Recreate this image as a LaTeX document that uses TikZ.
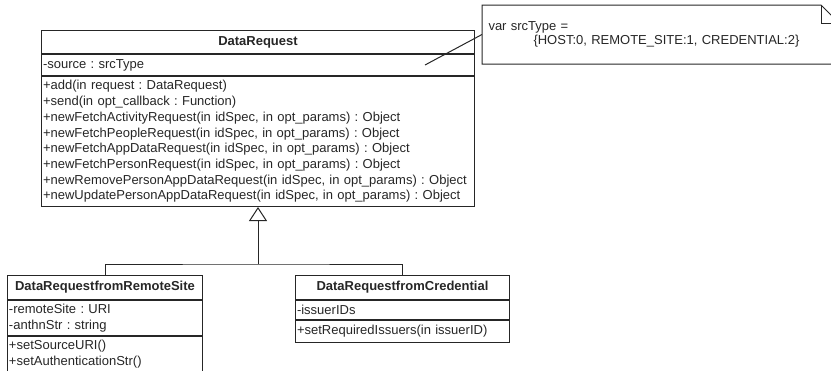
\documentclass[tikz,border=0pt]{standalone}
\usepackage{fontspec}
\setmainfont{Liberation Sans}
\usetikzlibrary{positioning,arrows.meta}
\frenchspacing
\hyphenpenalty=10000

\tikzset{
	cls/.style = {draw, inner xsep=1.5pt, inner ysep=0pt, anchor=north west,
		font=\fontsize{13}{15.7}\selectfont},
	clstitle/.style = {cls, align=center, font=\fontsize{13}{15.7}\selectfont\bfseries},
	clspart/.style = {cls, align=left},
	inherit/.style = {-{Triangle[open,length=14pt,width=18pt]}}
}

\begin{document}
\begin{tikzpicture}[x=1pt, y=-1pt, line width=1pt, color=black!85]
	\useasboundingbox (0,0) rectangle (831,370);
	\clip (0,0) rectangle (831,370);

	% base class
	\node[clstitle, text width=430pt, minimum height=23pt] (dr) at (41,30) {DataRequest};
	\node[clspart, text width=430pt, minimum height=21pt, below=0pt of dr] (drattr) {-source : srcType};
	\node[clspart, text width=430pt, minimum height=130pt, below=0pt of drattr] (drops) {+add(in request : DataRequest)\\
		+send(in opt\_callback : Function)\\
		+newFetchActivityRequest(in idSpec, in opt\_params) : Object\\
		+newFetchPeopleRequest(in idSpec, in opt\_params) : Object\\
		+newFetchAppDataRequest(in idSpec, in opt\_params) : Object\\
		+newFetchPersonRequest(in idSpec, in opt\_params) : Object\\
		+newRemovePersonAppDataRequest(in idSpec, in opt\_params) : Object\\
		+newUpdatePersonAppDataRequest(in idSpec, in opt\_params) : Object};

	% subclasses
	\node[clstitle, text width=192pt, minimum height=24pt] (rsite) at (7,275) {DataRequestfromRemoteSite};
	\node[clspart, text width=192pt, minimum height=35pt, below=0pt of rsite] (rsiteattr) {-remoteSite : URI\\-anthnStr : string};
	\node[clspart, text width=192pt, minimum height=35pt, below=0pt of rsiteattr] (rsiteops) {+setSourceURI()\\+setAuthenticationStr()};

	\node[clstitle, text width=211pt, minimum height=24pt] (cred) at (295,275) {DataRequestfromCredential};
	\node[clspart, text width=211pt, minimum height=19pt, below=0pt of cred] (credattr) {-issuerIDs};
	\node[clspart, text width=211pt, minimum height=22pt, below=0pt of credattr] (credops) {+setRequiredIssuers(in issuerID)};

	% generalization
	\coordinate (fork) at (drops.south |- 0,264);
	\draw (rsite.north) |- (fork) -| (cred.north);
	\draw[inherit] (fork) -- (drops.south);

	% note
	\node[anchor=north west, inner xsep=6pt, inner ysep=0pt, text width=344pt, minimum height=58pt,
		align=left, font=\fontsize{13}{14}\selectfont] (srcnote) at (482,5)
		{var srcType =\\\hspace*{45pt}\{HOST:0, REMOTE\_SITE:1, CREDENTIAL:2\}};
	\draw (srcnote.north west) -- ([xshift=-18pt]srcnote.north east) -- ([yshift=-18pt]srcnote.north east)
		-- (srcnote.south east) -- (srcnote.south west) -- cycle;
	\draw ([xshift=-18pt]srcnote.north east) |- ([yshift=-18pt]srcnote.north east);
	\coordinate (srcpin) at (425,65);
	\draw (srcpin) -- (srcnote.west);
\end{tikzpicture}
\end{document}
